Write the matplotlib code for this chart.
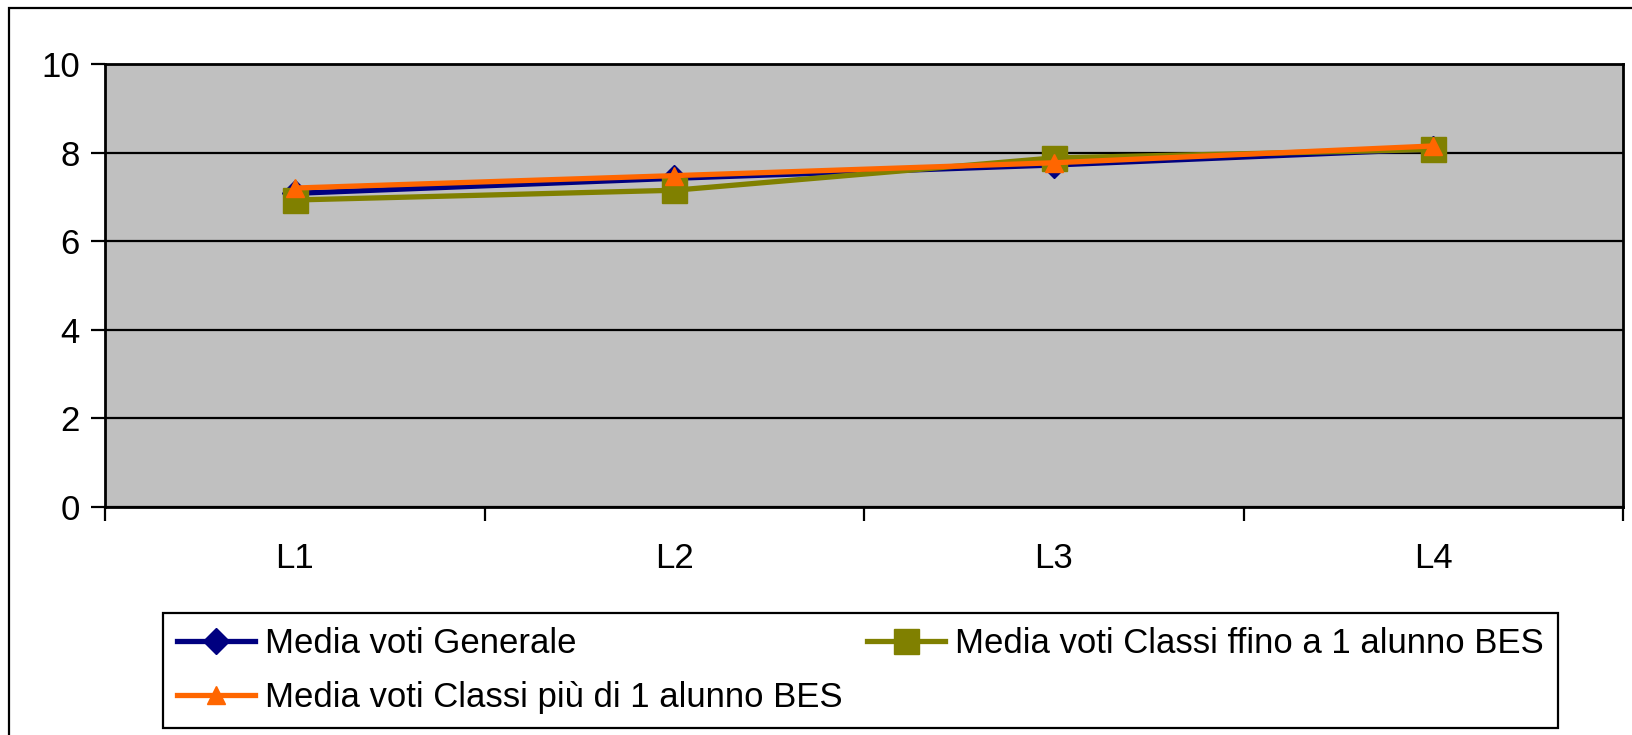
import matplotlib
matplotlib.use("Agg")
import matplotlib.pyplot as plt
from matplotlib.patches import Rectangle

plt.rcParams['font.family'] = ['Liberation Sans', 'DejaVu Sans']

categorie = ["L1", "L2", "L3", "L4"]
media_generale = [7.08, 7.42, 7.72, 8.08]
media_fino_1_bes = [6.93, 7.15, 7.88, 8.07]
media_piu_1_bes = [7.2, 7.48, 7.77, 8.15]

W, H = 1632, 735
fig = plt.figure(figsize=(W / 100, H / 100), dpi=100)

# bordo esterno del grafico
fig.patches.append(Rectangle((9 / W, -0.1), 1.2, (H - 8) / H + 0.1,
                             transform=fig.transFigure, fill=False,
                             edgecolor="black", linewidth=1.6))

ax = fig.add_axes([105 / W, (H - 507) / H, (1623 - 105) / W, (507 - 64) / H])
ax.set_facecolor("#C0C0C0")

x = list(range(len(categorie)))
l1, = ax.plot(x, media_generale, color="#000080", marker="D", markersize=13.5,
              linewidth=3.8, label="Media voti Generale", zorder=3)
l2, = ax.plot(x, media_fino_1_bes, color="#808000", marker="s", markersize=18,
              linewidth=3.8, label="Media voti Classi ffino a 1 alunno BES", zorder=4)
l3, = ax.plot(x, media_piu_1_bes, color="#FF6600", marker="^", markersize=13,
              linewidth=3.8, label="Media voti Classi più di 1 alunno BES", zorder=5)

ax.set_xlim(-0.5, 3.5)
ax.set_ylim(0, 10)
ax.set_yticks([0, 2, 4, 6, 8, 10])
ax.set_xticks([-0.5, 0.5, 1.5, 2.5, 3.5])
ax.set_xticklabels([])
ax.set_xticks(x, minor=True)
ax.set_xticklabels(categorie, minor=True)
ax.tick_params(axis="x", which="minor", length=0, pad=25, labelsize=25)
ax.tick_params(axis="x", which="major", length=10, width=1.6, direction="out")
ax.tick_params(axis="y", length=10, width=1.6, direction="out", pad=8, labelsize=25)

ax.grid(axis="y", color="black", linewidth=1.6, zorder=1)
ax.set_axisbelow(True)
for s in ax.spines.values():
    s.set_linewidth(2)
    s.set_color("black")

leg = fig.legend([l1, l3, l2], [l1.get_label(), l3.get_label(), l2.get_label()],
                 ncol=2, loc="lower left", mode="expand",
                 bbox_to_anchor=(163 / W, (H - 728) / H, (1558 - 163) / W, 0.1),
                 fontsize=25, handlelength=2.25, handletextpad=0.3,
                 labelspacing=0.6, borderpad=0.4, borderaxespad=0,
                 fancybox=False, framealpha=1, edgecolor="black")
leg.get_frame().set_linewidth(1.6)

fig.savefig("out.png", dpi=100)
